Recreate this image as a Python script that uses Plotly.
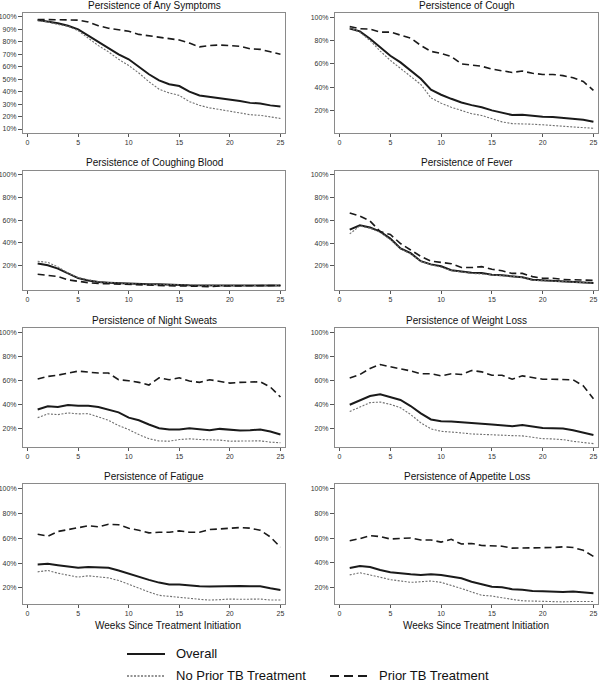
import plotly.graph_objects as go
from plotly.subplots import make_subplots

weeks = list(range(1, 26))

titles = [
    "Persistence of Any Symptoms", "Persistence of Cough",
    "Persistence of Coughing Blood", "Persistence of Fever",
    "Persistence of Night Sweats", "Persistence of Weight Loss",
    "Persistence of Fatigue", "Persistence of Appetite Loss",
]

any_overall = [97.5, 96.5, 95, 93, 90, 85, 80, 75, 70, 66, 60, 54, 49, 46, 44.5, 40, 37, 36, 35, 33.5, 32.5, 31, 30.5, 29, 28]
any_no_prior = [97, 96, 94, 92.5, 89, 83, 77, 72, 66, 61, 55, 48, 42, 39, 37, 32, 29, 27, 25.5, 24.5, 23, 21.5, 21, 20, 18.5]
any_prior = [98, 98, 98, 97.5, 97.5, 96, 93, 91, 90, 88.5, 86, 85, 84, 83, 81.5, 79, 76, 77, 77.5, 77, 76.5, 74.5, 74, 72, 70]

cough_overall = [90.3, 87.8, 81.5, 74, 67, 61.3, 54.7, 47.3, 38, 33.7, 30.2, 27, 24.8, 23, 20.3, 18, 16.3, 16.6, 15.7, 14.9, 14.6, 13.7, 13.4, 12.3, 10.6]
cough_no_prior = [91, 87, 80, 71, 63, 56, 49, 42.5, 31, 26.5, 23, 20, 17.5, 16, 13, 10.5, 9, 9, 8.5, 8, 7.5, 7, 6.5, 6, 5]
cough_prior = [92, 90, 89.7, 87.2, 87.2, 84.6, 82, 75.8, 70.7, 69, 66.4, 60, 59, 58, 55.6, 54.4, 52.7, 53.9, 52, 51, 51, 50, 48.2, 45, 37.4]

blood_overall = [21.5, 20, 17, 12.5, 8.5, 6.5, 5, 4.5, 4, 3.5, 3.2, 3, 3, 3, 2.5, 2.2, 2, 2, 2, 2, 2, 2, 2, 2, 2]
blood_no_prior = [23.5, 22.5, 18.5, 13, 9, 7, 5.2, 4.6, 4, 3.5, 3.2, 3, 3, 3, 2.5, 2.3, 2, 2, 2, 2, 2, 2, 2, 2, 2]
blood_prior = [12, 11, 10, 7, 5.5, 4.5, 3.8, 3.5, 3.2, 3, 2.5, 2, 2, 2, 1.5, 1.5, 1, 1, 1.5, 1.5, 2, 2, 2, 2, 2]

fever_overall = [51.7, 55.6, 53.7, 50, 43.9, 35.4, 31.2, 24.2, 21.4, 19.7, 16.3, 15, 14, 13.8, 12.4, 11.8, 11.3, 10.2, 7.9, 7.4, 7.4, 6.5, 6.2, 5.7, 5.1]
fever_no_prior = [48, 55, 53, 49.5, 43, 35, 30.5, 24, 21, 19, 16, 14.5, 13.5, 13, 12, 11.5, 11, 10, 7.5, 7, 7, 6, 6, 5.5, 5]
fever_prior = [66.3, 63.5, 59.3, 50, 47.5, 39.6, 34, 28.4, 24.2, 23.4, 22, 18.6, 18.6, 19.4, 17.2, 15.8, 13.5, 13.5, 10.7, 9.3, 9.3, 8.2, 7.9, 7.9, 7.4]

sweats_overall = [36, 38.7, 38.1, 39.8, 39.2, 39.2, 38.1, 36, 33.7, 29.3, 27.1, 23.6, 20.5, 19.4, 19.4, 20.5, 20, 18.9, 20, 19.4, 18.6, 18.9, 19.4, 17.8, 15.3]
sweats_no_prior = [29.3, 32.4, 31.8, 33.2, 32.4, 32.6, 29.9, 27.1, 22.7, 19.4, 15.3, 11.8, 10, 9.8, 11.2, 11.8, 11.2, 11.2, 10.7, 9.8, 9.8, 10.4, 10.1, 9, 8.5]
sweats_prior = [61.2, 63.4, 64.5, 66.2, 67.8, 67, 66.2, 66.2, 60.7, 59.9, 58.5, 56.3, 62.3, 60.7, 62.3, 59.6, 58.5, 60.7, 59, 57.9, 58.5, 59, 59, 54.6, 46.4]

weight_overall = [40, 43.6, 47.2, 48.6, 46.4, 43.9, 38.9, 32.8, 27.8, 26.4, 26.1, 25.3, 24.7, 24.2, 23.6, 23.1, 22.2, 23.3, 21.9, 20.8, 20.6, 20.3, 18.9, 17.2, 15]
weight_no_prior = [34.4, 38.3, 41.7, 42.2, 40.3, 37.5, 31.9, 25, 20, 18, 17.5, 16.7, 15.8, 15.3, 15, 14.7, 14.4, 14.2, 13.1, 11.9, 11.7, 11.1, 9.7, 8.6, 7.8]
weight_prior = [62.2, 65, 70, 73.3, 71.4, 70, 68, 65.6, 65.6, 63.9, 65.6, 65, 68.3, 67.2, 64.4, 64.4, 61.1, 63.9, 62.8, 61.1, 61.1, 61.1, 60.6, 55.6, 45]

fatigue_overall = [39, 39.5, 38.4, 37.4, 36.3, 36.9, 36.9, 36.3, 34.1, 31.4, 29.2, 26.5, 24.3, 22.7, 22.7, 21.9, 21.4, 21.1, 21.4, 21.9, 21.6, 21.4, 21.4, 19.7, 18.4]
fatigue_no_prior = [33, 34.1, 31.9, 30.3, 28.7, 29.8, 29.2, 28.1, 26, 22.7, 20, 16.7, 14, 13, 12.4, 11.6, 10.8, 10.2, 10.5, 11, 10.8, 10.8, 11, 10.2, 10.2]
fatigue_prior = [63.4, 61.8, 65.6, 67.2, 68.8, 70.2, 69.4, 71.5, 71, 68.3, 66.6, 64.5, 65, 65, 66.1, 65, 65, 67.2, 67.7, 68.3, 68.8, 68.3, 66.6, 61.2, 53]

appetite_overall = [36, 37.6, 36.8, 34.3, 32.6, 31.5, 31, 30.4, 31, 30.4, 29.3, 27.7, 24.9, 22.7, 20.8, 20.5, 18.9, 18.4, 17.5, 17.3, 16.7, 16.7, 17, 16.4, 15.6]
appetite_no_prior = [30.4, 32.1, 30.4, 28.2, 26.6, 25.5, 24.4, 24.9, 25.5, 24.4, 22.2, 19.5, 16.7, 14, 13.4, 11.8, 10.7, 9.6, 9.3, 9, 8.7, 8.7, 9, 9, 9]
appetite_prior = [57.9, 59.6, 62, 61.2, 59.3, 59.6, 60.1, 58.5, 58.5, 56.8, 59, 55.2, 55.7, 54.1, 53.5, 53.5, 51.9, 51.9, 52.4, 52.4, 52.4, 53, 52.4, 50.2, 45.3]

panels = [
    (any_overall, any_no_prior, any_prior),
    (cough_overall, cough_no_prior, cough_prior),
    (blood_overall, blood_no_prior, blood_prior),
    (fever_overall, fever_no_prior, fever_prior),
    (sweats_overall, sweats_no_prior, sweats_prior),
    (weight_overall, weight_no_prior, weight_prior),
    (fatigue_overall, fatigue_no_prior, fatigue_prior),
    (appetite_overall, appetite_no_prior, appetite_prior),
]

W, H = 600, 683
FONT = "Liberation Sans, Arial, sans-serif"

# frame pixel boxes (left/right per column, top/bottom per row)
col_px = [(23, 285), (335, 598)]
row_px = [(13, 133), (171, 290), (328, 447), (484, 604)]
y_ranges = [(6.8, 103.2), (1, 103.5), (-2, 103.5), (-1, 103), (5, 103.5), (5, 103.5), (7, 104), (7, 103.5)]

fig = make_subplots(rows=4, cols=2)

styles = [
    dict(name="Overall", color="#1a1a1a", width=2.0, dash="solid"),
    dict(name="No Prior TB Treatment", color="#707070", width=1.1, dash="2px,1.5px"),
    dict(name="Prior TB Treatment", color="#1a1a1a", width=1.6, dash="7px,4px"),
]

for i, series in enumerate(panels):
    r, c = i // 2 + 1, i % 2 + 1
    for s, vals in zip(styles, series):
        fig.add_trace(go.Scatter(
            x=weeks, y=vals, mode="lines", name=s["name"],
            line=dict(color=s["color"], width=s["width"], dash=s["dash"]),
            showlegend=False, hoverinfo="skip",
        ), row=r, col=c)

    x0, x1 = col_px[c - 1]
    y0, y1 = row_px[r - 1]
    step = 10 if i == 0 else 20
    yt = list(range(step, 101, step))
    fig.update_xaxes(domain=[x0 / W, x1 / W], range=[-0.45, 25.45], tickvals=[0, 5, 10, 15, 20, 25],
                     showline=True, mirror=True, linecolor="#8a8a8a", linewidth=1,
                     ticks="outside", ticklen=3, tickcolor="#555", showgrid=False, zeroline=False,
                     tickfont=dict(size=7, color="#333", family=FONT), row=r, col=c)
    fig.update_yaxes(domain=[1 - y1 / H, 1 - y0 / H], range=list(y_ranges[i]),
                     tickvals=yt, ticktext=[f"{v}%" for v in yt],
                     showline=True, mirror=True, linecolor="#8a8a8a", linewidth=1,
                     ticks="outside", ticklen=4, tickcolor="#555", showgrid=False, zeroline=False,
                     tickfont=dict(size=7, color="#333", family=FONT), row=r, col=c)
    fig.add_annotation(text=titles[i], x=(x0 + x1) / 2 / W, y=1 - (y0 - 8) / H,
                       xref="paper", yref="paper", showarrow=False, xanchor="center",
                       yanchor="middle", font=dict(size=10, color="#111", family=FONT))

for cx in (168, 476):
    fig.add_annotation(text="Weeks Since Treatment Initiation", x=cx / W, y=1 - 625 / H,
                       xref="paper", yref="paper", showarrow=False, xanchor="center",
                       yanchor="middle", font=dict(size=10, color="#111", family=FONT))

# legend key, drawn by hand (sample line + label)
legend_items = [
    (styles[0], 127, 654, dict(width=2.2, dash="solid")),
    (styles[1], 127, 676, dict(width=1.3, dash="2px,1.5px")),
    (styles[2], 330, 676, dict(width=2.2, dash="9px,5px")),
]
for s, lx, ly, ls in legend_items:
    fig.add_shape(type="line", xref="paper", yref="paper",
                  x0=lx / W, x1=(lx + 38) / W, y0=1 - ly / H, y1=1 - ly / H,
                  line=dict(color=s["color"], **ls))
    fig.add_annotation(text=s["name"], x=(lx + 47) / W, y=1 - (ly - 1) / H,
                       xref="paper", yref="paper", showarrow=False, xanchor="left",
                       yanchor="middle", font=dict(size=13, color="#111", family=FONT))

fig.update_layout(
    width=W, height=H, margin=dict(l=0, r=0, t=0, b=0),
    paper_bgcolor="white", plot_bgcolor="white",
    font=dict(family=FONT, color="#111"),
    showlegend=False,
)

fig.write_html("out.html", config={"displayModeBar": False},
               post_script="document.body.style.margin='0';")
